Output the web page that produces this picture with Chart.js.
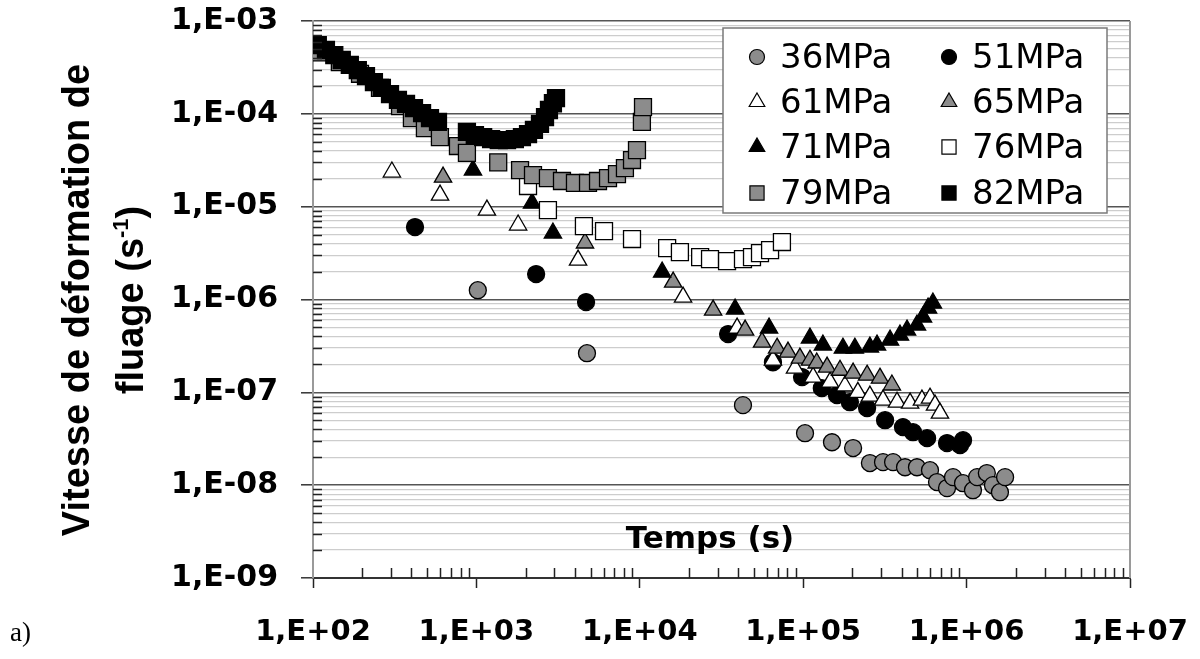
<!DOCTYPE html>
<html>
<head>
<meta charset="utf-8">
<script src="https://cdn.jsdelivr.net/npm/chart.js@4.4.1/dist/chart.umd.min.js"></script>
<style>
  html, body { margin: 0; padding: 0; background: #fff; }
  canvas { display: block; }
</style>
</head>
<body>
<canvas id="creepChart" width="1200" height="659"></canvas>
<script>
// Creep strain rate vs time, one series per applied stress
const seriesNames = ['36MPa', '51MPa', '61MPa', '65MPa', '71MPa', '76MPa', '79MPa', '82MPa'];

const time36 = [1020, 4750, 42800, 102600, 150000, 202000, 256000, 308000, 355000, 420000, 497000, 597000, 659000, 759000, 826000, 951000, 1094000, 1160000, 1330000, 1450000, 1600000, 1720000];
const rate36 = [1.26e-6, 2.64e-7, 7.28e-8, 3.63e-8, 2.90e-8, 2.51e-8, 1.73e-8, 1.77e-8, 1.77e-8, 1.56e-8, 1.56e-8, 1.45e-8, 1.08e-8, 9.3e-9, 1.22e-8, 1.05e-8, 8.83e-9, 1.22e-8, 1.35e-8, 1.0e-8, 8.4e-9, 1.22e-8];

const time51 = [421, 2320, 4690, 34700, 65300, 98400, 130000, 161000, 193000, 246000, 317000, 408000, 470000, 573000, 759000, 912000, 951000];
const rate51 = [6.03e-6, 1.88e-6, 9.38e-7, 4.24e-7, 2.11e-7, 1.46e-7, 1.11e-7, 9.33e-8, 7.83e-8, 6.76e-8, 5.01e-8, 4.22e-8, 3.72e-8, 3.21e-8, 2.84e-8, 2.70e-8, 3.05e-8];

const time61 = [304, 599, 1160, 1800, 4190, 18400, 39400, 65300, 89100, 115000, 146000, 180000, 216000, 256000, 308000, 375000, 451000, 533000, 597000, 641000, 687000];
const rate61 = [2.36e-5, 1.33e-5, 9.19e-6, 6.34e-6, 2.66e-6, 1.06e-6, 4.92e-7, 2.22e-7, 1.82e-7, 1.46e-7, 1.29e-7, 1.17e-7, 1.0e-7, 9.1e-8, 8.24e-8, 7.83e-8, 7.65e-8, 8.24e-8, 8.65e-8, 7.28e-8, 5.97e-8];

const time65 = [625, 4620, 16000, 28100, 44100, 56000, 69200, 80700, 95500, 110000, 121000, 140000, 168000, 202000, 246000, 295000, 349000];
const rate65 = [2.08e-5, 4.06e-6, 1.54e-6, 7.69e-7, 4.68e-7, 3.48e-7, 2.99e-7, 2.71e-7, 2.34e-7, 2.22e-7, 2.07e-7, 1.87e-7, 1.73e-7, 1.61e-7, 1.53e-7, 1.42e-7, 1.20e-7];

const time71 = [953, 2190, 2940, 13700, 38300, 61800, 110000, 132000, 175000, 207000, 256000, 283000, 340000, 391000, 432000, 497000, 541000, 581000, 622000];
const rate71 = [2.48e-5, 1.09e-5, 5.2e-6, 1.97e-6, 7.89e-7, 4.92e-7, 3.84e-7, 3.23e-7, 2.99e-7, 2.99e-7, 3.07e-7, 3.23e-7, 3.65e-7, 4.13e-7, 4.68e-7, 5.30e-7, 6.46e-7, 8.07e-7, 9.14e-7];

const time76 = [2070, 2740, 4550, 6040, 8960, 14700, 17600, 23400, 26900, 34200, 42800, 48600, 54400, 62700, 74100];
const rate76 = [1.67e-5, 9.19e-6, 6.18e-6, 5.46e-6, 4.48e-6, 3.58e-6, 3.24e-6, 2.86e-6, 2.72e-6, 2.59e-6, 2.72e-6, 2.86e-6, 3.16e-6, 3.40e-6, 4.16e-6];

const time79 = [107, 146, 194, 257, 341, 403, 484, 598, 771, 875, 1360, 1850, 2220, 2740, 3340, 4010, 4820, 5550, 6390, 7250, 8110, 8960, 9610, 10300, 10460];
const rate79 = [4.6e-4, 3.6e-4, 2.7e-4, 1.9e-4, 1.21e-4, 9.0e-5, 7.0e-5, 5.6e-5, 4.5e-5, 3.8e-5, 3.0e-5, 2.48e-5, 2.19e-5, 2.03e-5, 1.89e-5, 1.8e-5, 1.8e-5, 1.89e-5, 2.03e-5, 2.24e-5, 2.6e-5, 3.18e-5, 4.07e-5, 8.2e-5, 1.18e-4];

const time82 = [107, 120, 135, 150, 168, 188, 211, 236, 264, 296, 331, 371, 415, 465, 520, 582, 875, 980, 1100, 1230, 1370, 1540, 1720, 1900, 2070, 2250, 2450, 2630, 2780, 2940, 3070];
const rate82 = [5.5e-4, 4.87e-4, 4.3e-4, 3.8e-4, 3.36e-4, 2.96e-4, 2.55e-4, 2.2e-4, 1.9e-4, 1.63e-4, 1.41e-4, 1.28e-4, 1.15e-4, 1.02e-4, 9.0e-5, 8.2e-5, 6.4e-5, 5.9e-5, 5.6e-5, 5.35e-5, 5.2e-5, 5.2e-5, 5.35e-5, 5.6e-5, 6.05e-5, 6.7e-5, 7.8e-5, 9.2e-5, 1.1e-4, 1.3e-4, 1.48e-4];

// Axis ticks (decades get labels, 2..9 are minor)
const yDecades = [-9, -8, -7, -6, -5, -4, -3];
const yTickLabels = ['1,E-09', '1,E-08', '1,E-07', '1,E-06', '1,E-05', '1,E-04', '1,E-03'];
const xDecades = [2, 3, 4, 5, 6, 7];
const xTickLabels = ['1,E+02', '1,E+03', '1,E+04', '1,E+05', '1,E+06', '1,E+07'];
const minorSteps = [2, 3, 4, 5, 6, 7, 8, 9];

const GREY = '#8c8c8c';
const markerStyles = [
  { shape: 'circle', fill: GREY, r: 8.5, lr: 7.5 },
  { shape: 'circle', fill: '#000', r: 8.5, lr: 7.5 },
  { shape: 'triangle', fill: '#fff', r: 10, lr: 9 },
  { shape: 'triangle', fill: GREY, r: 10, lr: 9 },
  { shape: 'triangle', fill: '#000', r: 10, lr: 9 },
  { shape: 'rect', fill: '#fff', r: 12, lr: 10 },
  { shape: 'rect', fill: GREY, r: 12, lr: 10 },
  { shape: 'rect', fill: '#000', r: 12, lr: 10 }
];

const timeSeries = [time36, time51, time61, time65, time71, time76, time79, time82];
const rateSeries = [rate36, rate51, rate61, rate65, rate71, rate76, rate79, rate82];

function isDecade(v) {
  const l = Math.log10(v);
  return Math.abs(l - Math.round(l)) < 1e-9;
}

function logTicks(decades) {
  const out = [];
  decades.forEach((e, i) => {
    out.push({ value: Math.pow(10, e) });
    if (i < decades.length - 1) {
      minorSteps.forEach(m => out.push({ value: m * Math.pow(10, e) }));
    }
  });
  return out;
}

function tickLabel(decades, labels) {
  return (value) => {
    if (!isDecade(value)) return '';
    const i = decades.indexOf(Math.round(Math.log10(value)));
    return i >= 0 ? labels[i] : '';
  };
}

function drawMarker(ctx, shape, x, y, r) {
  ctx.beginPath();
  if (shape === 'circle') {
    ctx.arc(x, y, r, 0, Math.PI * 2);
  } else if (shape === 'triangle') {
    ctx.moveTo(x, y - r);
    ctx.lineTo(x + r * 0.866, y + r / 2);
    ctx.lineTo(x - r * 0.866, y + r / 2);
    ctx.closePath();
  } else {
    const s = r * Math.SQRT1_2;
    ctx.rect(x - s, y - s, 2 * s, 2 * s);
  }
  ctx.fill();
  ctx.stroke();
}

const datasets = seriesNames.map((name, i) => ({
  label: name,
  data: timeSeries[i].map((t, k) => ({ x: t, y: rateSeries[i][k] })),
  showLine: false,
  pointStyle: markerStyles[i].shape,
  pointRadius: markerStyles[i].r,
  pointBackgroundColor: markerStyles[i].fill,
  pointBorderColor: '#000',
  pointBorderWidth: 1.3,
  order: seriesNames.length - i  // later series drawn on top
}));

// Minor tick marks on the inside of the axes and the right frame line
const axisMarks = {
  id: 'axisMarks',
  afterDraw(chart) {
    const { ctx, chartArea: a, scales: { x, y } } = chart;
    ctx.save();
    ctx.strokeStyle = '#9a9a9a';
    ctx.lineWidth = 2;
    ctx.beginPath();
    ctx.moveTo(a.right, a.top);
    ctx.lineTo(a.right, a.bottom);
    ctx.stroke();

    ctx.strokeStyle = '#222';
    ctx.lineWidth = 1.5;
    ctx.beginPath();
    y.ticks.forEach(t => {
      if (isDecade(t.value)) return;
      const py = Math.round(y.getPixelForValue(t.value)) + 0.5;
      ctx.moveTo(a.left, py);
      ctx.lineTo(a.left + 9, py);
    });
    x.ticks.forEach(t => {
      if (isDecade(t.value)) return;
      const px = Math.round(x.getPixelForValue(t.value)) + 0.5;
      ctx.moveTo(px, a.bottom);
      ctx.lineTo(px, a.bottom - 10);
    });
    ctx.stroke();
    ctx.restore();
  }
};

// Legend box (2 columns x 4 rows), axis titles and panel letter
const legendBox = { left: 723, top: 28, right: 1107, bottom: 213 };
const legendRowY = [55, 100, 145, 191];
const legendMarkerX = [757, 949];
const legendTextX = [780, 972];

const annotations = {
  id: 'annotations',
  afterDraw(chart) {
    const ctx = chart.ctx;
    ctx.save();

    // legend
    ctx.fillStyle = '#fff';
    ctx.fillRect(legendBox.left, legendBox.top, legendBox.right - legendBox.left, legendBox.bottom - legendBox.top);
    ctx.strokeStyle = '#7a7a7a';
    ctx.lineWidth = 1.5;
    ctx.strokeRect(legendBox.left, legendBox.top, legendBox.right - legendBox.left, legendBox.bottom - legendBox.top);
    chart.data.datasets.forEach((ds, i) => {
      const col = i % 2;
      const row = Math.floor(i / 2);
      const st = markerStyles[i];
      ctx.fillStyle = st.fill;
      ctx.strokeStyle = '#000';
      ctx.lineWidth = 1.2;
      drawMarker(ctx, st.shape, legendMarkerX[col], legendRowY[row] + 2, st.lr);
      ctx.fillStyle = '#000';
      ctx.font = '34px "DejaVu Sans"';
      ctx.textAlign = 'left';
      ctx.textBaseline = 'alphabetic';
      ctx.fillText(ds.label, legendTextX[col], legendRowY[row] + 12.5);
    });

    // x axis title, inside the plot
    ctx.fillStyle = '#000';
    ctx.font = 'bold 31px "DejaVu Sans"';
    ctx.textAlign = 'center';
    ctx.fillText('Temps (s)', 710, 548);

    // y axis title, two rotated lines
    ctx.font = 'bold 38px "Liberation Sans"';
    ctx.save();
    ctx.translate(89, 300);
    ctx.rotate(-Math.PI / 2);
    ctx.textAlign = 'center';
    ctx.fillText('Vitesse de déformation de', 0, 0);
    ctx.restore();

    ctx.save();
    ctx.translate(143, 300);
    ctx.rotate(-Math.PI / 2);
    ctx.textAlign = 'left';
    const part1 = 'fluage (s';
    const sup = '-1';
    const part3 = ')';
    ctx.font = 'bold 38px "Liberation Sans"';
    const w1 = ctx.measureText(part1).width;
    const w3 = ctx.measureText(part3).width;
    ctx.font = 'bold 22px "Liberation Sans"';
    const w2 = ctx.measureText(sup).width;
    let start = -(w1 + w2 + w3) / 2;
    ctx.font = 'bold 38px "Liberation Sans"';
    ctx.fillText(part1, start, 0);
    ctx.font = 'bold 22px "Liberation Sans"';
    ctx.fillText(sup, start + w1, -15);
    ctx.font = 'bold 38px "Liberation Sans"';
    ctx.fillText(part3, start + w1 + w2, 0);
    ctx.restore();

    // panel letter
    ctx.font = '27px "Liberation Serif"';
    ctx.textAlign = 'left';
    ctx.fillText('a)', 10, 641);

    ctx.restore();
  }
};

const ctx = document.getElementById('creepChart').getContext('2d');
const creepChart = new Chart(ctx, {
  type: 'scatter',
  data: { datasets: datasets },
  options: {
    responsive: false,
    animation: false,
    events: [],
    layout: { padding: { left: 0, top: 21, right: 70, bottom: 0 } },
    plugins: {
      legend: { display: false },
      tooltip: { enabled: false }
    },
    scales: {
      x: {
        type: 'logarithmic',
        min: 1e2,
        max: 1e7,
        afterBuildTicks: (scale) => { scale.ticks = logTicks(xDecades); },
        afterFit: (scale) => {
          scale.height = 81;
          // let layout.padding alone decide the plot edges
          scale.paddingLeft = 0;
          scale.paddingRight = 0;
        },
        border: { display: true, color: '#333', width: 2 },
        grid: {
          drawOnChartArea: false,
          tickLength: 10,
          tickWidth: 1.5,
          tickColor: (c) => (c.tick && isDecade(c.tick.value)) ? '#222' : 'rgba(0,0,0,0)'
        },
        ticks: {
          autoSkip: false,
          maxRotation: 0,
          minRotation: 0,
          padding: 27,
          color: '#000',
          font: { family: 'DejaVu Sans', size: 29, weight: 'bold' },
          callback: tickLabel(xDecades, xTickLabels)
        }
      },
      y: {
        type: 'logarithmic',
        min: 1e-9,
        max: 1e-3,
        afterBuildTicks: (scale) => { scale.ticks = logTicks(yDecades); },
        afterFit: (scale) => {
          scale.width = 313;
          scale.paddingTop = 0;
          scale.paddingBottom = 0;
        },
        border: { display: true, color: '#9a9a9a', width: 2 },
        grid: {
          color: (c) => (c.tick && isDecade(c.tick.value)) ? '#555' : '#cdcdcd',
          lineWidth: (c) => (c.tick && isDecade(c.tick.value)) ? 1.6 : 1.2,
          tickLength: 12,
          tickWidth: 1.5,
          tickColor: (c) => (c.tick && isDecade(c.tick.value)) ? '#333' : 'rgba(0,0,0,0)'
        },
        ticks: {
          autoSkip: false,
          padding: 23,
          color: '#000',
          font: { family: 'DejaVu Sans', size: 30, weight: 'bold' },
          callback: tickLabel(yDecades, yTickLabels)
        }
      }
    }
  },
  plugins: [axisMarks, annotations]
});
</script>
</body>
</html>
